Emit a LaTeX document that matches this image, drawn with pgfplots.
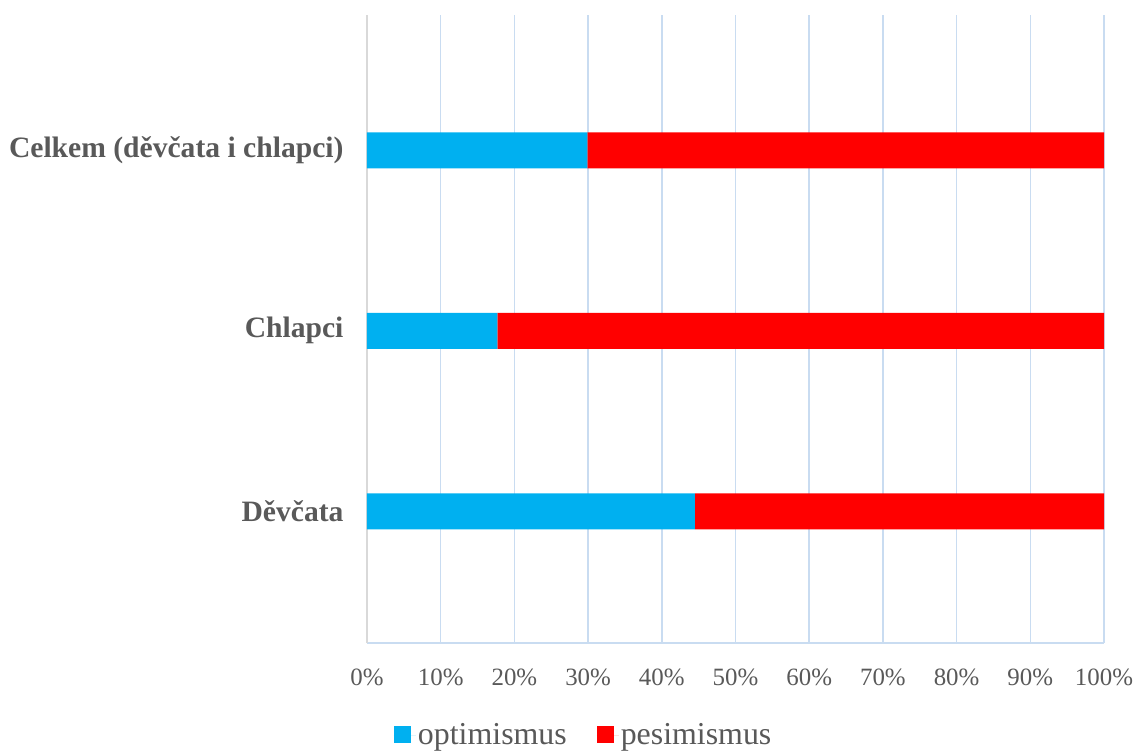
\documentclass[border=0pt]{standalone}
\usepackage{fontspec}
\setmainfont{Liberation Serif}
\usepackage{pgfplots}
\pgfplotsset{compat=1.18}
\usetikzlibrary{calc}
\definecolor{optc}{HTML}{00B0F0}
\definecolor{pesc}{HTML}{FF0000}
\definecolor{gridc}{HTML}{C9DCF1}
\definecolor{txtc}{HTML}{595959}
\definecolor{leftc}{HTML}{D9D9D9}
\begin{document}
\begin{tikzpicture}
\begin{axis}[
  name=ax,
  scale only axis,
  width=737bp, height=628bp,
  xbar stacked,
  bar width=36bp,
  xmin=0, xmax=100,
  ymin=-0.73, ymax=2.75,
  xtick={0,10,...,100},
  xticklabels={0\%,10\%,20\%,30\%,40\%,50\%,60\%,70\%,80\%,90\%,100\%},
  ytick={0,1,2},
  yticklabels={Děvčata,Chlapci,Celkem (děvčata i chlapci)},
  major tick length=0pt,
  xmajorgrids,
  grid style={gridc, line width=1.5bp},
  axis x line*=bottom,
  axis y line*=left,
  x axis line style={gridc, line width=1.5bp, -},
  y axis line style={leftc, line width=2bp, -},
  tick label style={font=\fontsize{25}{30}\selectfont, text=txtc},
  xticklabel style={yshift=-22bp},
  yticklabel style={font=\fontsize{29.7}{35}\selectfont\bfseries, xshift=-20bp},
  legend style={at={(0.294,-0.1465)}, anchor=center, draw=none, legend columns=2,
    font=\fontsize{32}{38}\selectfont, text=txtc,
    nodes={inner sep=2bp},
    /tikz/every even column/.append style={column sep=28bp}},
  legend image code/.code={\path (0bp,0bp) -- (22bp,0bp);\fill[#1] (0bp,-8bp) rectangle (17bp,9bp);},
]
\addplot[fill=optc, draw=none] coordinates {(44.5,0) (17.7,1) (29.9,2)};
\addplot[fill=pesc, draw=none] coordinates {(55.5,0) (82.3,1) (70.1,2)};
\legend{optimismus, pesimismus}
\end{axis}
\pgfresetboundingbox
\path[use as bounding box] ($(ax.south west)+(-367bp,-108bp)$) rectangle ($(ax.north east)+(34bp,15bp)$);
\end{tikzpicture}
\end{document}
